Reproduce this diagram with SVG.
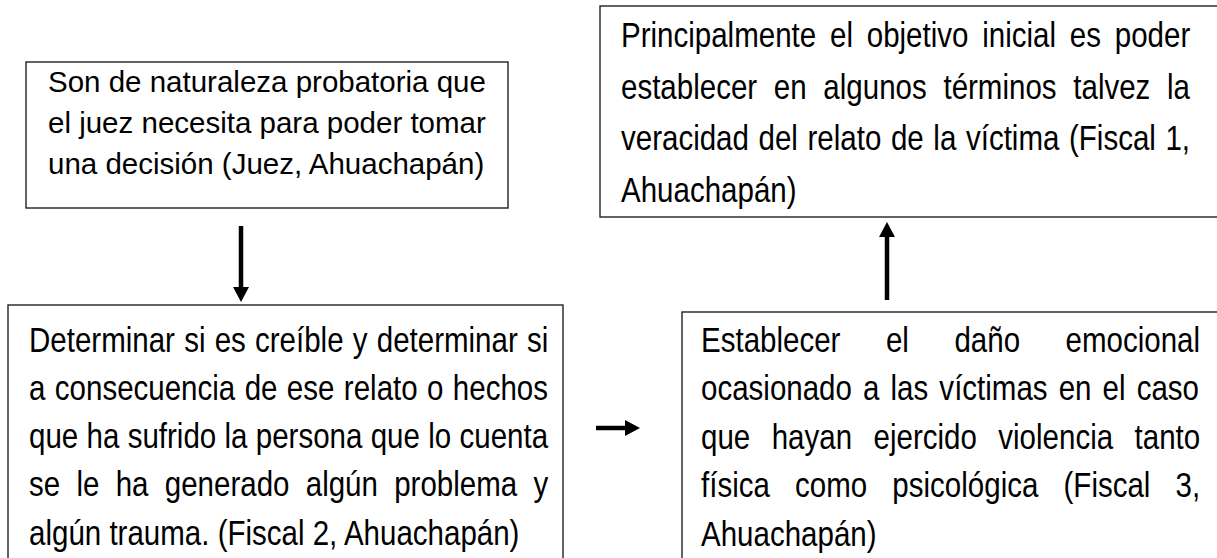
<svg xmlns="http://www.w3.org/2000/svg" width="1217" height="558" viewBox="0 0 1217 558">
<defs>
<style>
.box{fill:#fff;stroke:#222;stroke-width:1.4}
.t{font-family:"Liberation Sans",Arial,sans-serif;font-size:29.5px;fill:#000}
.n{font-family:"Liberation Sans",Arial,sans-serif;font-size:36px;fill:#000}
.c{stroke:#000;stroke-width:4.5;fill:none}
</style>
<marker id="ah" viewBox="0 -8 15 16" refX="0" refY="0" markerWidth="15" markerHeight="16" markerUnits="userSpaceOnUse" orient="auto">
<path d="M0,-8 L15,0 L0,8 Z" fill="#000"/>
</marker>
</defs>
<rect width="1217" height="558" fill="#fff"/>
<g id="node-juez">
<rect class="box" x="26" y="62" width="482" height="146"/>
<text class="t" x="48" y="92">Son de naturaleza probatoria que</text>
<text class="t" x="48" y="133">el juez necesita para poder tomar</text>
<text class="t" x="48" y="174">una decisión (Juez, Ahuachapán)</text>
</g>
<g id="node-fiscal1">
<rect class="box" x="600" y="6" width="630" height="211"/>
<g transform="translate(621,0) scale(0.82,1)">
<text class="n" x="0" y="47" word-spacing="6.83">Principalmente el objetivo inicial es poder</text>
<text class="n" x="0" y="99" word-spacing="10.37">establecer en algunos términos talvez la</text>
<text class="n" x="0" y="150.5" word-spacing="1.71">veracidad del relato de la víctima (Fiscal 1,</text>
<text class="n" x="0" y="202">Ahuachapán)</text>
</g>
</g>
<g id="node-fiscal2">
<rect class="box" x="8" y="305" width="555" height="270"/>
<g transform="translate(29,0) scale(0.82,1)">
<text class="n" x="0" y="352" word-spacing="1.22">Determinar si es creíble y determinar si</text>
<text class="n" x="0" y="400" word-spacing="1.46">a consecuencia de ese relato o hechos</text>
<text class="n" x="0" y="448" word-spacing="0.12">que ha sufrido la persona que lo cuenta</text>
<text class="n" x="0" y="496.5" word-spacing="9.84">se le ha generado algún problema y</text>
<text class="n" x="0" y="545">algún trauma. (Fiscal 2, Ahuachapán)</text>
</g>
</g>
<g id="node-fiscal3">
<rect class="box" x="682" y="312" width="550" height="270"/>
<g transform="translate(701,0) scale(0.82,1)">
<text class="n" x="0" y="352" word-spacing="45.5">Establecer el daño emocional</text>
<text class="n" x="0" y="400.5" word-spacing="3.54">ocasionado a las víctimas en el caso</text>
<text class="n" x="0" y="449" word-spacing="16.16">que hayan ejercido violencia tanto</text>
<text class="n" x="0" y="497.5" word-spacing="20.7">física como psicológica (Fiscal 3,</text>
<text class="n" x="0" y="546">Ahuachapán)</text>
</g>
</g>
<g id="connectors">
<line class="c" x1="241" y1="226" x2="241" y2="287" marker-end="url(#ah)"/>
<line class="c" x1="887" y1="300" x2="887" y2="237" marker-end="url(#ah)"/>
<line class="c" x1="596" y1="428" x2="625" y2="428" marker-end="url(#ah)"/>
</g>
</svg>
